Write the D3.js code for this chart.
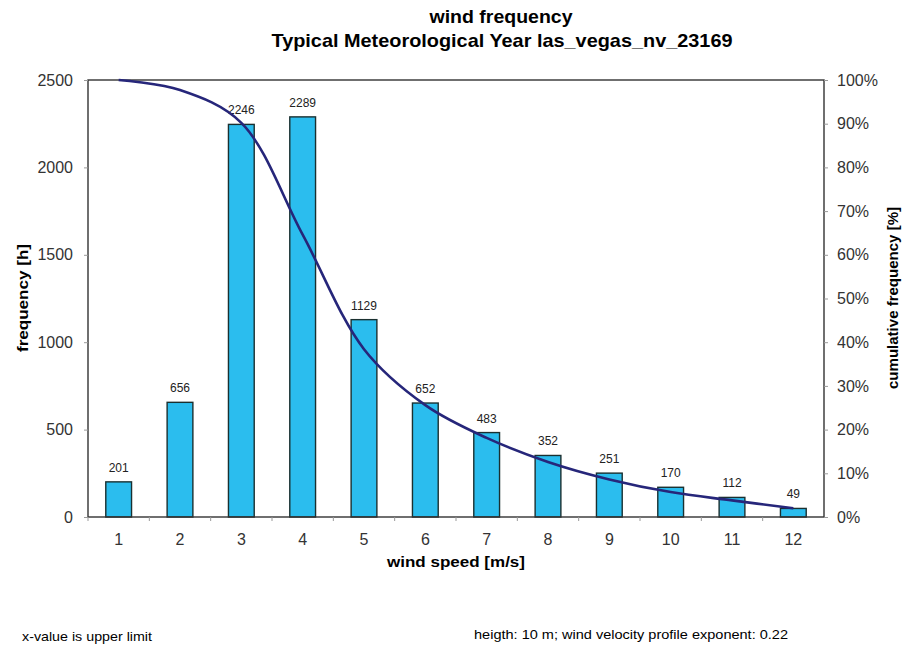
<!DOCTYPE html>
<html><head><meta charset="utf-8">
<script src="https://cdn.jsdelivr.net/npm/d3@7"></script>
<style>body{margin:0;background:#fff}svg{display:block}text{font-family:"Liberation Sans",Arial,sans-serif}</style>
</head><body><svg id="c" width="912" height="646"></svg>
<script>
const speeds = [1,2,3,4,5,6,7,8,9,10,11,12];
const hours = [201,656,2246,2289,1129,652,483,352,251,170,112,49];
const cumulative = [100,97.7,90.2,64.6,38.4,25.6,18.1,12.6,8.6,5.7,3.8,2.0];
const leftTicks = [0,500,1000,1500,2000,2500];
const rightTicks = [0,10,20,30,40,50,60,70,80,90,100];

const svg = d3.select("#c");
const m = {l:88, r:824, t:80, b:517};
const x = d3.scaleBand().domain(speeds).range([m.l,m.r]).paddingInner(0.58).paddingOuter(0.29);
const xc = d3.scaleBand().domain(speeds).range([m.l,m.r]);
const y = d3.scaleLinear().domain([0,2500]).range([m.b,m.t]);
const y2 = d3.scaleLinear().domain([0,100]).range([m.b,m.t]);

// bars
svg.append("g").selectAll("rect").data(speeds).join("rect")
  .attr("x",d=>x(d)).attr("width",x.bandwidth())
  .attr("y",(d,i)=>y(hours[i])).attr("height",(d,i)=>m.b-y(hours[i]))
  .attr("fill","#2bbdee").attr("stroke","#1a3030").attr("stroke-width",1.4);

// value labels
svg.append("g").selectAll("text").data(speeds).join("text")
  .attr("x",d=>x(d)+x.bandwidth()/2).attr("y",(d,i)=>y(hours[i])-10)
  .attr("text-anchor","middle").attr("font-size",12).attr("fill","#222")
  .text((d,i)=>hours[i]);

// frame
svg.append("rect").attr("x",m.l).attr("y",m.t).attr("width",m.r-m.l).attr("height",m.b-m.t)
  .attr("fill","none").attr("stroke","#333").attr("stroke-width",1.4);

// curve
const line = d3.line().x((d,i)=>xc(speeds[i])+xc.bandwidth()/2).y(d=>y2(d)).curve(d3.curveCatmullRom.alpha(0.5));
svg.append("path").datum(cumulative).attr("d",line).attr("fill","none").attr("stroke","#26267a").attr("stroke-width",2.6);

// axes
const la = svg.append("g").attr("transform",`translate(${m.l},0)`)
  .call(d3.axisLeft(y).tickValues(leftTicks).tickSize(4).tickPadding(11).tickFormat(d3.format("d")));
const ra = svg.append("g").attr("transform",`translate(${m.r},0)`)
  .call(d3.axisRight(y2).tickValues(rightTicks).tickSize(4).tickPadding(9).tickFormat(d=>d+"%"));
const ba = svg.append("g").attr("transform",`translate(0,${m.b})`)
  .call(d3.axisBottom(xc).tickSize(0).tickPadding(17));
[la,ra,ba].forEach(g=>{g.select(".domain").remove();g.selectAll("line").attr("stroke","#999");
  g.selectAll("text").attr("font-size",16).attr("fill","#333").attr("font-family","Liberation Sans, Arial, sans-serif");});

// small band ticks on bottom axis
svg.append("g").selectAll("line").data(speeds).join("line")
  .attr("x1",d=>xc(d)).attr("x2",d=>xc(d)).attr("y1",m.b).attr("y2",m.b+4).attr("stroke","#999");

// titles
svg.append("text").attr("x",501).attr("y",23).attr("text-anchor","middle").attr("font-weight","bold").attr("font-size",19)
  .attr("textLength",143).attr("lengthAdjust","spacingAndGlyphs").text("wind frequency");
svg.append("text").attr("x",502).attr("y",47).attr("text-anchor","middle").attr("font-weight","bold").attr("font-size",19)
  .attr("textLength",461).attr("lengthAdjust","spacingAndGlyphs").text("Typical Meteorological Year las_vegas_nv_23169");
svg.append("text").attr("x",456).attr("y",567).attr("text-anchor","middle").attr("font-weight","bold").attr("font-size",15)
  .attr("textLength",138).attr("lengthAdjust","spacingAndGlyphs").text("wind speed [m/s]");
svg.append("text").attr("transform","translate(28,298) rotate(-90)").attr("text-anchor","middle").attr("font-weight","bold").attr("font-size",15)
  .attr("textLength",108).attr("lengthAdjust","spacingAndGlyphs").text("frequency  [h]");
svg.append("text").attr("transform","translate(898,298) rotate(-90)").attr("text-anchor","middle").attr("font-weight","bold").attr("font-size",15)
  .attr("textLength",182).attr("lengthAdjust","spacingAndGlyphs").text("cumulative frequency  [%]");

// footnotes
svg.append("text").attr("x",22).attr("y",641).attr("font-size",13).attr("textLength",130).attr("lengthAdjust","spacingAndGlyphs").text("x-value is upper limit");
svg.append("text").attr("x",474).attr("y",639).attr("font-size",13).attr("textLength",314).attr("lengthAdjust","spacingAndGlyphs").text("heigth: 10 m; wind velocity profile exponent: 0.22");
</script></body></html>
